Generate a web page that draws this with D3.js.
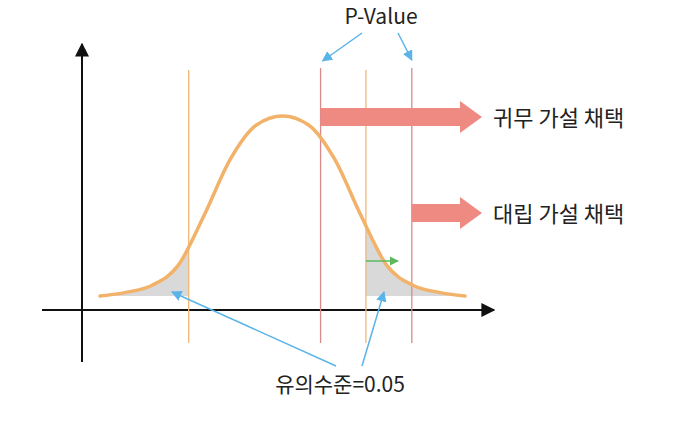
<!DOCTYPE html>
<html><head><meta charset="utf-8">
<script src="https://cdn.jsdelivr.net/npm/d3@7"></script>
<style>body{margin:0;background:#fff}text{font-family:"Noto Sans CJK KR",sans-serif}</style>
</head><body><div id="chart"></div>
<script>
// curve (z, relative height)
var curveZ = [-3.5, -3, -2.5, -2, -1.5, -1, -0.5, 0, 0.5, 1, 1.5, 2, 2.5, 3, 3.5];
var curveH = [0.0, 0.02, 0.06, 0.17, 0.45, 0.76, 0.95, 1, 0.95, 0.76, 0.45, 0.17, 0.06, 0.02, 0.0];
var alphaZ = [-1.8, 1.6];     // significance level lines
var pvalZ = [0.73, 2.48];     // p-value lines
var decisions = ["귀무 가설 채택", "대립 가설 채택"];

var width = 678, height = 432;
var svg = d3.select("#chart").append("svg").attr("width", width).attr("height", height);

var x = d3.scaleLinear().domain([-3.5, 3.5]).range([100, 465]);
var y = d3.scaleLinear().domain([0, 1]).range([296, 116]);

var defs = svg.append("defs");
function marker(id, col) {
  defs.append("marker").attr("id", id).attr("viewBox", "0 0 10 10").attr("refX", 9).attr("refY", 5)
    .attr("markerWidth", 7).attr("markerHeight", 7).attr("orient", "auto")
    .append("path").attr("d", "M0,0L10,5L0,10z").attr("fill", col);
}
marker("ab", "#111"); marker("ablue", "#5ab4e8"); marker("agreen", "#5cb85c");

var pts = curveZ.map(function(z, i) { return [z, curveH[i]]; });

// shaded tails
defs.append("clipPath").attr("id", "tails").selectAll("rect")
  .data([[x(-3.5), x(alphaZ[0])], [x(alphaZ[1]), x(3.5)]]).enter().append("rect")
  .attr("x", function(d) { return d[0]; }).attr("width", function(d) { return d[1] - d[0]; })
  .attr("y", 0).attr("height", height);
svg.append("path").datum(pts).attr("clip-path", "url(#tails)")
  .attr("d", d3.area().curve(d3.curveMonotoneX).x(function(d) { return x(d[0]); })
    .y0(y(0)).y1(function(d) { return y(d[1]); }))
  .attr("fill", "#d9d9d9");

// axes
svg.append("line").attr("x1", 82).attr("y1", 362).attr("x2", 82).attr("y2", 44)
  .attr("stroke", "#111").attr("stroke-width", 2).attr("marker-end", "url(#ab)");
svg.append("line").attr("x1", 42).attr("y1", 310).attr("x2", 494).attr("y2", 310)
  .attr("stroke", "#111").attr("stroke-width", 2).attr("marker-end", "url(#ab)");

// vertical lines
svg.selectAll(".al").data(alphaZ).enter().append("line")
  .attr("x1", function(d) { return x(d); }).attr("x2", function(d) { return x(d); })
  .attr("y1", 70).attr("y2", 343).attr("stroke", "#f0b878").attr("stroke-width", 1.3);
svg.selectAll(".pl").data(pvalZ).enter().append("line")
  .attr("x1", function(d) { return x(d); }).attr("x2", function(d) { return x(d); })
  .attr("y1", 68).attr("y2", 343).attr("stroke", "#d98a8a").attr("stroke-width", 1.3);

// curve
svg.append("path").datum(pts)
  .attr("d", d3.line().curve(d3.curveMonotoneX).x(function(d) { return x(d[0]); }).y(function(d) { return y(d[1]); }))
  .attr("fill", "none").attr("stroke", "#f2b26a").attr("stroke-width", 3.5).attr("stroke-linecap", "round");

// decision arrows
var ay = [117, 213];
pvalZ.forEach(function(z, i) {
  var x0 = x(z), x1 = 482, h = 9, hw = 16, hl = 22;
  svg.append("path").attr("d", "M" + x0 + "," + (ay[i] - h) + "L" + (x1 - hl) + "," + (ay[i] - h) +
    "L" + (x1 - hl) + "," + (ay[i] - hw) + "L" + x1 + "," + ay[i] + "L" + (x1 - hl) + "," + (ay[i] + hw) +
    "L" + (x1 - hl) + "," + (ay[i] + h) + "L" + x0 + "," + (ay[i] + h) + "Z")
    .attr("fill", "#ef8a82");
  svg.append("text").attr("x", 493).attr("y", ay[i] + 9).attr("font-size", 22).attr("fill", "#222")
    .text(decisions[i]);
});

// green arrow
svg.append("line").attr("x1", x(alphaZ[1])).attr("y1", 261).attr("x2", 398).attr("y2", 261)
  .attr("stroke", "#5cb85c").attr("stroke-width", 1.3).attr("marker-end", "url(#agreen)");

// labels and pointers
svg.append("text").attr("x", 381).attr("y", 24).attr("text-anchor", "middle").attr("font-size", 21)
  .attr("fill", "#222").text("P-Value");
function pointer(a, b) {
  svg.append("line").attr("x1", a[0]).attr("y1", a[1]).attr("x2", b[0]).attr("y2", b[1])
    .attr("stroke", "#5ab4e8").attr("stroke-width", 1.5).attr("marker-end", "url(#ablue)");
}
pointer([362, 33], [x(pvalZ[0]) + 2, 61]);
pointer([398, 33], [x(pvalZ[1]), 60]);
svg.append("text").attr("x", 340).attr("y", 392).attr("text-anchor", "middle").attr("font-size", 21)
  .attr("fill", "#222").text("유의수준=0.05");
pointer([336, 366], [172, 292]);
pointer([362, 366], [384, 292]);
</script></body></html>
